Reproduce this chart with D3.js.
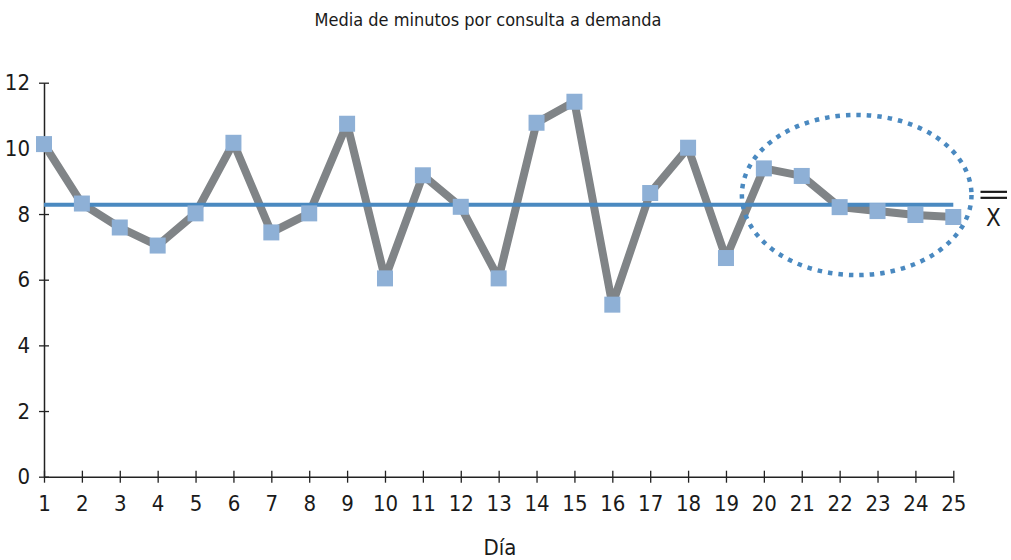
<!DOCTYPE html>
<html><head><meta charset="utf-8">
<script src="https://cdn.jsdelivr.net/npm/d3@7"></script>
<style>
body{margin:0;background:#fff;}
text{font-family:"Liberation Sans Narrow","DejaVu Sans Condensed","Arial Narrow",sans-serif;fill:#1a1a1a;}
</style></head>
<body><svg id="c" width="1011" height="560"></svg>
<script>
const days = d3.range(1, 26);
const values = [10.13, 8.32, 7.59, 7.04, 8.02, 10.17, 7.44, 8.02, 10.75, 6.04, 9.18, 8.22, 6.04,
                10.78, 11.42, 5.24, 8.64, 10.02, 6.66, 9.39, 9.16, 8.21, 8.09, 7.97, 7.91];
const meanValue = 8.28;
const yTicks = [0, 2, 4, 6, 8, 10, 12];
const title = "Media de minutos por consulta a demanda";
const xTitle = "Día";
// highlighted region (days 20-25)
const ellipseCenter = {day: 22.45, value: 8.58};
const ellipseRadius = {days: 3.03, value: 2.44};

const svg = d3.select("#c");
const x = d3.scaleLinear().domain([1, 25]).range([44, 953.3]);
const y = d3.scaleLinear().domain([0, 12]).range([476.7, 82.7]);

svg.append("text").attr("x", 488).attr("y", 26).attr("text-anchor", "middle")
  .attr("font-size", 18).text(title);

// axes
const xAxis = svg.append("g").attr("transform", `translate(0,${y(0)})`)
  .call(d3.axisBottom(x).tickValues(days).tickFormat(d3.format("d")).tickSizeInner(6).tickSizeOuter(0).tickPadding(13));
xAxis.select(".domain").attr("stroke", "#222").attr("stroke-width", 1.5);
xAxis.selectAll(".tick line").attr("y1", -6).attr("y2", 6).attr("stroke", "#222").attr("stroke-width", 1.3);
xAxis.selectAll(".tick text").attr("font-size", 22).attr("fill", "#1a1a1a");

const yAxis = svg.append("g").attr("transform", `translate(${x(1)},0)`)
  .call(d3.axisLeft(y).tickValues(yTicks).tickSizeInner(5).tickSizeOuter(0).tickPadding(9));
yAxis.select(".domain").attr("stroke", "#222").attr("stroke-width", 1.5);
yAxis.selectAll(".tick line").attr("x1", -5).attr("x2", 5).attr("stroke", "#222").attr("stroke-width", 1.3);
yAxis.selectAll(".tick text").attr("font-size", 22).attr("fill", "#1a1a1a");

svg.append("text").attr("x", 500).attr("y", 555).attr("text-anchor", "middle")
  .attr("font-size", 22).text(xTitle);

// series line
svg.append("path").datum(days)
  .attr("fill", "none").attr("stroke", "#808487").attr("stroke-width", 8)
  .attr("stroke-linejoin", "round")
  .attr("d", d3.line().x(d => x(d)).y((d, i) => y(values[i])));

// mean line
svg.append("line").attr("x1", x(1)).attr("x2", x(25))
  .attr("y1", y(meanValue)).attr("y2", y(meanValue))
  .attr("stroke", "#4a89c0").attr("stroke-width", 4);

// markers
svg.append("g").selectAll("rect").data(days).join("rect")
  .attr("x", d => x(d) - 8).attr("y", (d, i) => y(values[i]) - 8)
  .attr("width", 16).attr("height", 16).attr("fill", "#8eb0d6");

// dotted ellipse
svg.append("ellipse")
  .attr("cx", x(ellipseCenter.day)).attr("cy", y(ellipseCenter.value))
  .attr("rx", x(1 + ellipseRadius.days) - x(1)).attr("ry", y(0) - y(ellipseRadius.value))
  .attr("fill", "none").attr("stroke", "#4a89c0").attr("stroke-width", 4.5)
  .attr("stroke-dasharray", "4.5 6");

// X-bar symbol
const sym = svg.append("g");
sym.append("line").attr("x1", 980.5).attr("x2", 1007).attr("y1", y(meanValue) - 13).attr("y2", y(meanValue) - 13)
  .attr("stroke", "#1a1a1a").attr("stroke-width", 2.2);
sym.append("line").attr("x1", 980.5).attr("x2", 1007).attr("y1", y(meanValue) - 7).attr("y2", y(meanValue) - 7)
  .attr("stroke", "#1a1a1a").attr("stroke-width", 2.2);
sym.append("text").attr("x", 993.5).attr("y", y(meanValue) + 21).attr("text-anchor", "middle")
  .attr("font-size", 24).text("X");
</script></body></html>
